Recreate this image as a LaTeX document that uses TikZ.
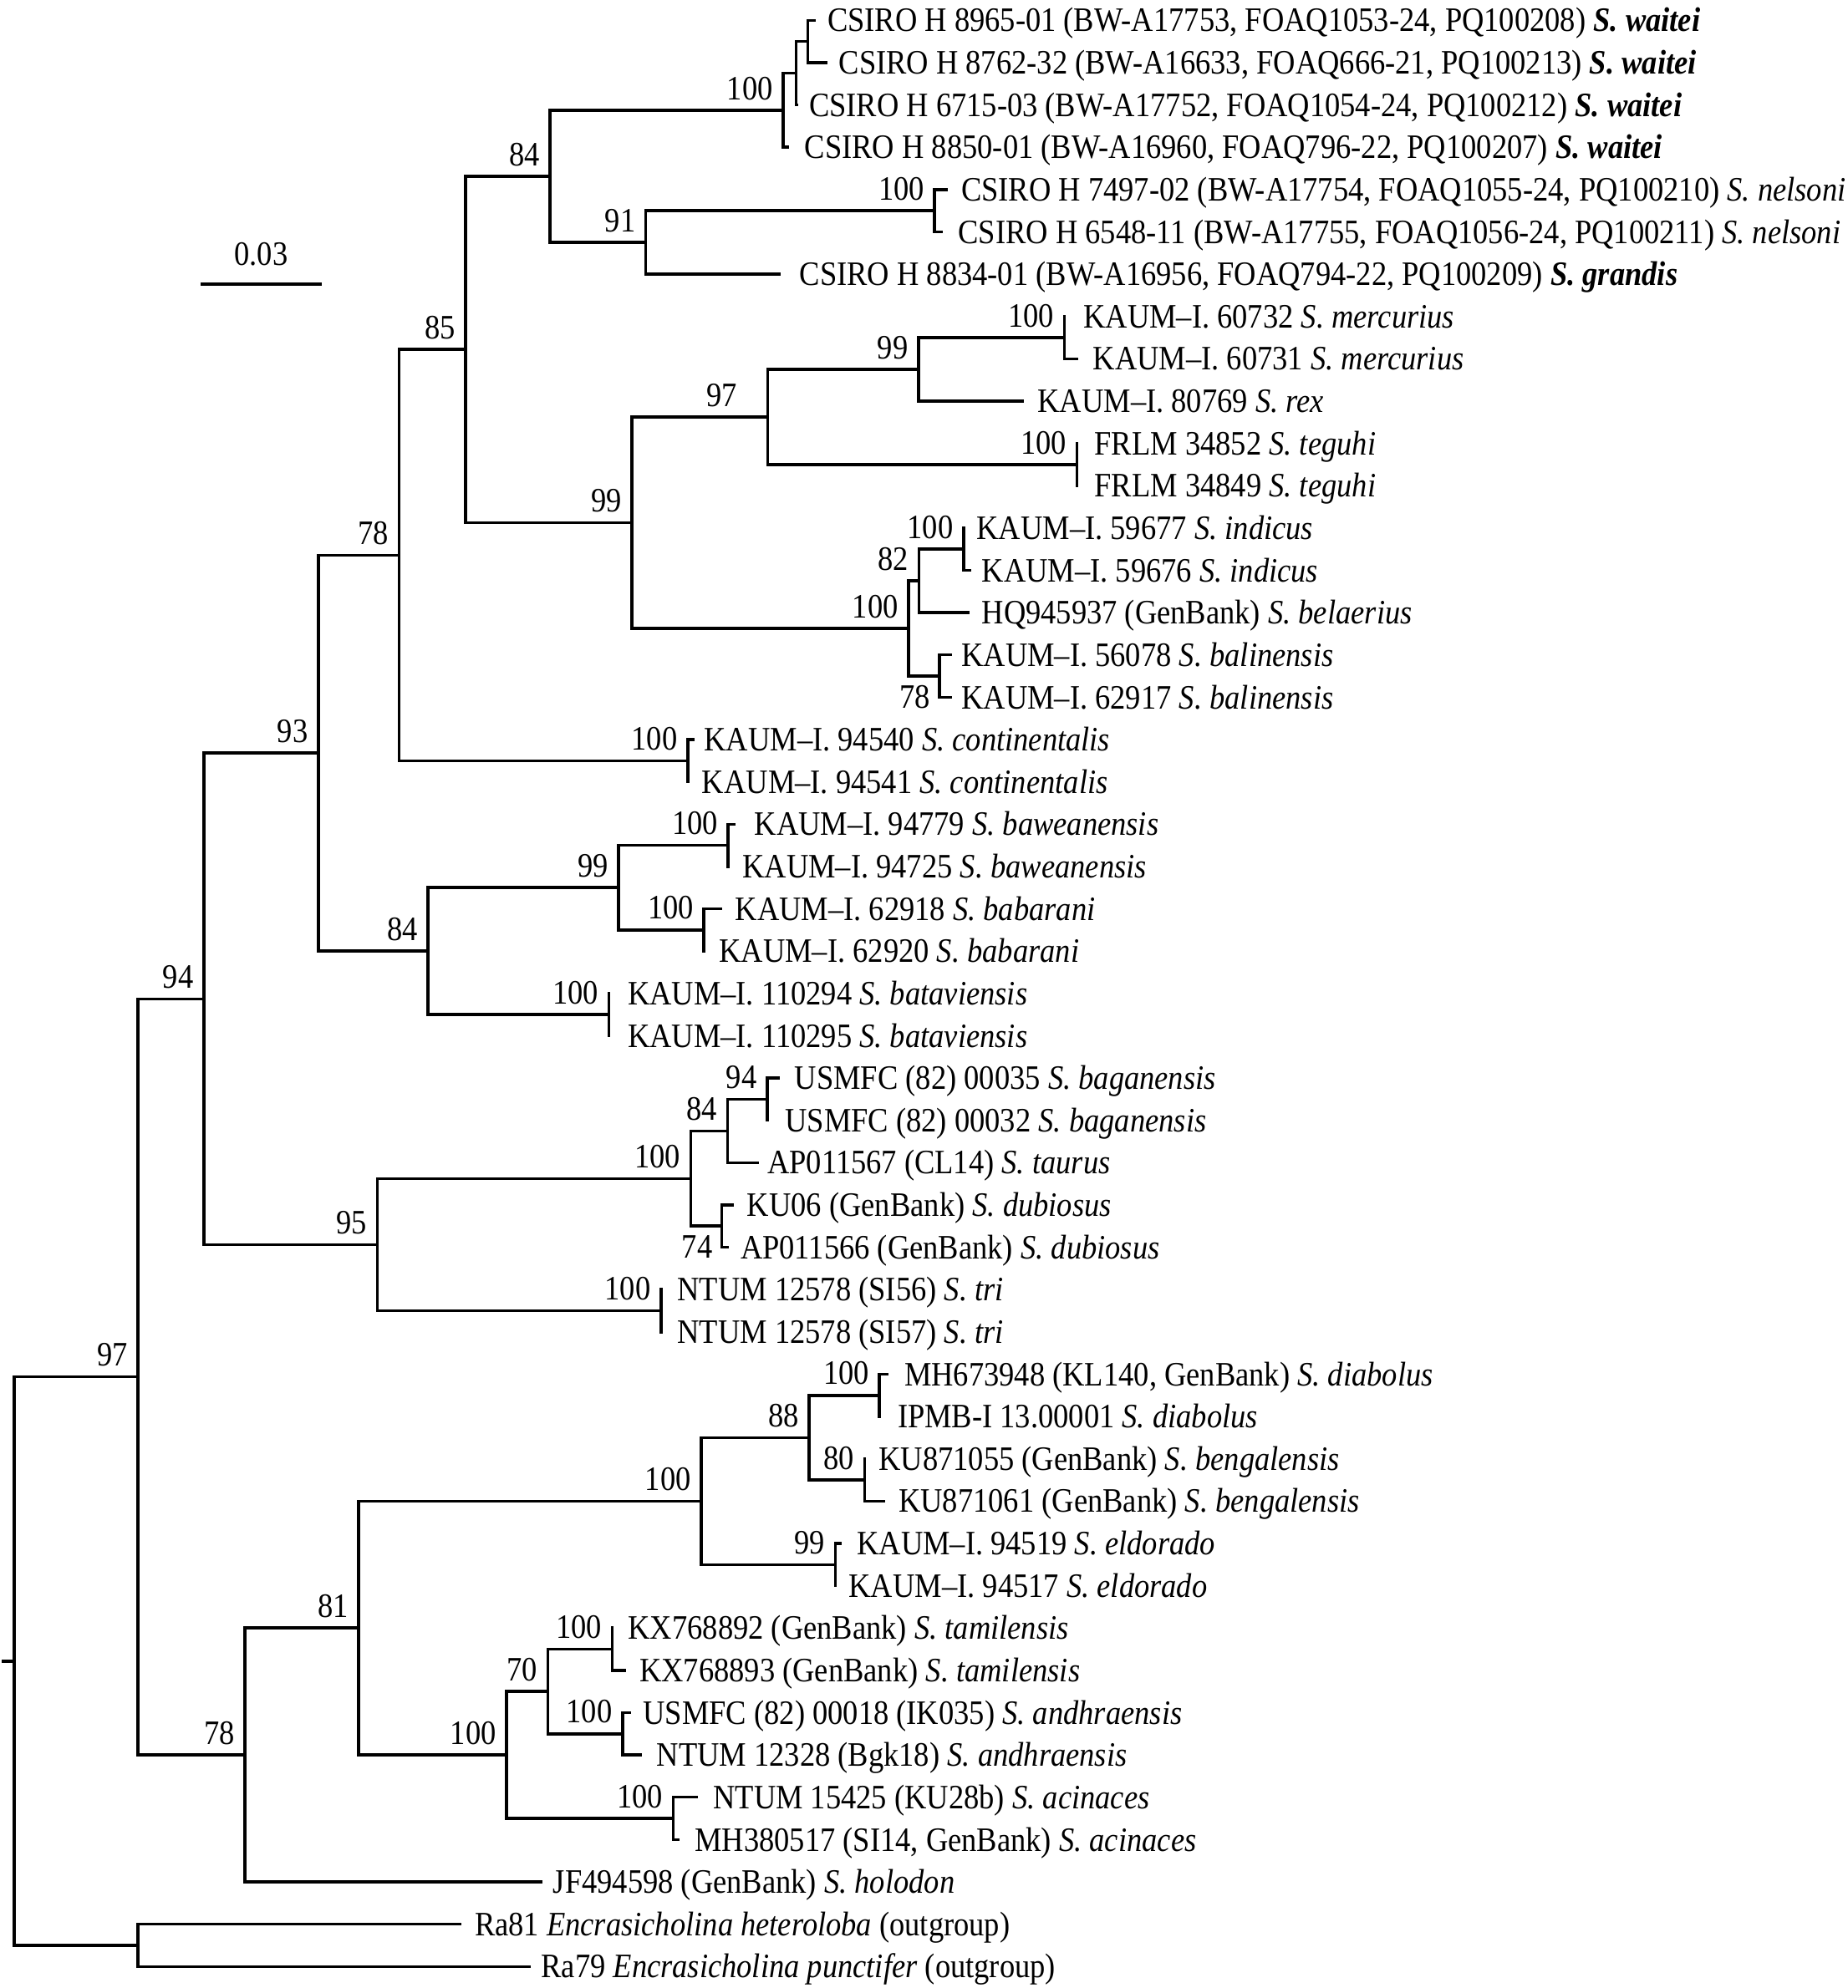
\documentclass[tikz,border=0pt]{standalone}
\usepackage{fontspec}
\setmainfont{Liberation Serif}[FakeStretch=0.891]
\usetikzlibrary{calc}
\newcommand{\fsz}{\fontsize{27}{31}\selectfont}
\newcommand{\mkleaf}[4]{%
  \coordinate (t#1) at (#2, {16+(#1-1)*33.37});
  \node[leaftext] (l#1) at (#3, {16+(#1-1)*33.37}) {#4};}
\newcommand{\spi}[1]{\textit{S. #1}}
\newcommand{\spbi}[1]{\textbf{\textit{S. #1}}}
\begin{document}
\begin{tikzpicture}[x=1pt,y=-1pt,
  br/.style={line width=2.3pt, line cap=rect, line join=miter},
  leaftext/.style={anchor=base west, inner sep=0pt, yshift=-9pt, font=\fsz},
  bs/.style={anchor=south east, inner sep=0pt, xshift=-8pt, yshift=8pt, font=\fsz},
  bsb/.style={anchor=north east, inner sep=0pt, xshift=-7pt, yshift=-7pt, font=\fsz}]
\useasboundingbox (0,0) rectangle (1457,1568);

% internal nodes
\coordinate (root) at (11.2,1310.17);
\coordinate (rootstub) at (2.4,1310.17);
\coordinate (N97) at (108.9,1086.0);
\coordinate (Nout) at (108.9,1534.34);
\coordinate (N94) at (160.7,787.82);
\coordinate (N78b) at (193.2,1384.17);
\coordinate (N93) at (251,593.98);
\coordinate (N95) at (297.6,981.65);
\coordinate (N78a) at (314.7,437.82);
\coordinate (N84b) at (337.5,750.14);
\coordinate (N85) at (367.1,275.66);
\coordinate (Ncontin) at (542.3,599.98);
\coordinate (N84a) at (433.7,139.05);
\coordinate (N99a) at (498.4,412.27);
\coordinate (Nw100) at (617.6,86.91);
\coordinate (Nwsub) at (627.7,57.71);
\coordinate (Nwsubb) at (637.1,32.69);
\coordinate (N91) at (509.3,191.19);
\coordinate (Nnels) at (737,166.17);
\coordinate (N97b) at (605.4,328.84);
\coordinate (N99b) at (724.3,291.30);
\coordinate (Nmerc) at (839.3,266.28);
\coordinate (Ntegu) at (849.3,366.39);
\coordinate (N100c) at (716.5,495.69);
\coordinate (N82) at (724.7,458.15);
\coordinate (Nindi) at (759.8,433.13);
\coordinate (N78c) at (740.7,533.24);
\coordinate (N99c) at (487.8,700.09);
\coordinate (Nbawe) at (574.2,666.72);
\coordinate (Nbaba) at (555.1,733.46);
\coordinate (Nbata) at (480,800.2);
\coordinate (N100d) at (544.7,929.51);
\coordinate (N84c) at (573.8,891.97);
\coordinate (N94b) at (605,866.94);
\coordinate (N74) at (569,967.05);
\coordinate (Ntri) at (521.2,1033.79);
\coordinate (N81) at (282.8,1284.06);
\coordinate (N100e) at (553.1,1183.95);
\coordinate (N88) at (638.1,1133.9);
\coordinate (Ndiab) at (693.5,1100.53);
\coordinate (N80) at (681.7,1167.27);
\coordinate (Neldo) at (658.8,1234.0);
\coordinate (N100f) at (399.5,1384.17);
\coordinate (N70) at (431.9,1334.12);
\coordinate (Ntami) at (482.7,1300.75);
\coordinate (Nandh) at (490.9,1367.49);
\coordinate (Nacin) at (530.9,1434.23);

% leaves: index, tip x, text x, text
\mkleaf{1}{641.8}{652.3}{CSIRO H 8965-01 (BW-A17753, FOAQ1053-24, PQ100208) \spbi{waitei}}
\mkleaf{2}{651.2}{661.3}{CSIRO H 8762-32 (BW-A16633, FOAQ666-21, PQ100213) \spbi{waitei}}
\mkleaf{3}{628.5}{637.8}{CSIRO H 6715-03 (BW-A17752, FOAQ1054-24, PQ100212) \spbi{waitei}}
\mkleaf{4}{621}{634.4}{CSIRO H 8850-01 (BW-A16960, FOAQ796-22, PQ100207) \spbi{waitei}}
\mkleaf{5}{746.4}{757.8}{CSIRO H 7497-02 (BW-A17754, FOAQ1055-24, PQ100210) \spi{nelsoni}}
\mkleaf{6}{742}{755.5}{CSIRO H 6548-11 (BW-A17755, FOAQ1056-24, PQ100211) \spi{nelsoni}}
\mkleaf{7}{614.3}{630.4}{CSIRO H 8834-01 (BW-A16956, FOAQ794-22, PQ100209) \spbi{grandis}}
\mkleaf{8}{839.3}{854.2}{KAUM–I. 60732 \spi{mercurius}}
\mkleaf{9}{849.3}{861.8}{KAUM–I. 60731 \spi{mercurius}}
\mkleaf{10}{806.1}{818.1}{KAUM–I. 80769 \spi{rex}}
\mkleaf{11}{849.3}{862.9}{FRLM 34852 \spi{teguhi}}
\mkleaf{12}{849.3}{862.9}{FRLM 34849 \spi{teguhi}}
\mkleaf{13}{759.8}{770}{KAUM–I. 59677 \spi{indicus}}
\mkleaf{14}{764.6}{774}{KAUM–I. 59676 \spi{indicus}}
\mkleaf{15}{763.5}{774}{HQ945937 (GenBank) \spi{belaerius}}
\mkleaf{16}{749.3}{758}{KAUM–I. 56078 \spi{balinensis}}
\mkleaf{17}{749.3}{758}{KAUM–I. 62917 \spi{balinensis}}
\mkleaf{18}{546.7}{555.1}{KAUM–I. 94540 \spi{continentalis}}
\mkleaf{19}{542.3}{553.4}{KAUM–I. 94541 \spi{continentalis}}
\mkleaf{20}{578.6}{594.8}{KAUM–I. 94779 \spi{baweanensis}}
\mkleaf{21}{574.2}{585.3}{KAUM–I. 94725 \spi{baweanensis}}
\mkleaf{22}{568.5}{579.6}{KAUM–I. 62918 \spi{babarani}}
\mkleaf{23}{555.1}{566.9}{KAUM–I. 62920 \spi{babarani}}
\mkleaf{24}{480}{494.8}{KAUM–I. 110294 \spi{bataviensis}}
\mkleaf{25}{480}{494.8}{KAUM–I. 110295 \spi{bataviensis}}
\mkleaf{26}{613.8}{626.5}{USMFC (82) 00035 \spi{baganensis}}
\mkleaf{27}{605}{619}{USMFC (82) 00032 \spi{baganensis}}
\mkleaf{28}{597}{605}{AP011567 (CL14) \spi{taurus}}
\mkleaf{29}{577.8}{589}{KU06 (GenBank) \spi{dubiosus}}
\mkleaf{30}{573.8}{583.8}{AP011566 (GenBank) \spi{dubiosus}}
\mkleaf{31}{521.2}{534}{NTUM 12578 (SI56) \spi{tri}}
\mkleaf{32}{521.2}{534}{NTUM 12578 (SI57) \spi{tri}}
\mkleaf{33}{699.5}{713}{MH673948 (KL140, GenBank) \spi{diabolus}}
\mkleaf{34}{693.5}{707.7}{IPMB-I 13.00001 \spi{diabolus}}
\mkleaf{35}{681.7}{692.7}{KU871055 (GenBank) \spi{bengalensis}}
\mkleaf{36}{697}{708.5}{KU871061 (GenBank) \spi{bengalensis}}
\mkleaf{37}{662.4}{675.6}{KAUM–I. 94519 \spi{eldorado}}
\mkleaf{38}{658.8}{669.2}{KAUM–I. 94517 \spi{eldorado}}
\mkleaf{39}{482.7}{495.2}{KX768892 (GenBank) \spi{tamilensis}}
\mkleaf{40}{492.7}{504.1}{KX768893 (GenBank) \spi{tamilensis}}
\mkleaf{41}{496.2}{507}{USMFC (82) 00018 (IK035) \spi{andhraensis}}
\mkleaf{42}{505.2}{517.7}{NTUM 12328 (Bgk18) \spi{andhraensis}}
\mkleaf{43}{549.5}{562.3}{NTUM 15425 (KU28b) \spi{acinaces}}
\mkleaf{44}{534.5}{547.7}{MH380517 (SI14, GenBank) \spi{acinaces}}
\mkleaf{45}{426.6}{436}{JF494598 (GenBank) \spi{holodon}}
\mkleaf{46}{362.8}{374.2}{Ra81 \textit{Encrasicholina heteroloba} (outgroup)}
\mkleaf{47}{417.2}{426.6}{Ra79 \textit{Encrasicholina punctifer} (outgroup)}

% branches
\draw[br] (rootstub) -- (root);
\foreach \p/\c in {root/N97, root/Nout, N97/N94, N97/N78b, N94/N93, N94/N95,
  N93/N78a, N93/N84b, N78a/N85, N78a/Ncontin, N85/N84a, N85/N99a,
  N84a/Nw100, N84a/N91, Nw100/Nwsub, Nw100/t4, Nwsub/Nwsubb, Nwsub/t3,
  Nwsubb/t1, Nwsubb/t2, N91/Nnels, N91/t7, Nnels/t5, Nnels/t6,
  N99a/N97b, N99a/N100c, N97b/N99b, N97b/Ntegu, N99b/Nmerc, N99b/t10,
  Nmerc/t8, Nmerc/t9, Ntegu/t11, Ntegu/t12, N100c/N82, N100c/N78c,
  N82/Nindi, N82/t15, Nindi/t13, Nindi/t14, N78c/t16, N78c/t17,
  Ncontin/t18, Ncontin/t19, N84b/N99c, N84b/Nbata, N99c/Nbawe, N99c/Nbaba,
  Nbawe/t20, Nbawe/t21, Nbaba/t22, Nbaba/t23, Nbata/t24, Nbata/t25,
  N95/N100d, N95/Ntri, N100d/N84c, N100d/N74, N84c/N94b, N84c/t28,
  N94b/t26, N94b/t27, N74/t29, N74/t30, Ntri/t31, Ntri/t32,
  N78b/N81, N78b/t45, N81/N100e, N81/N100f, N100e/N88, N100e/Neldo,
  N88/Ndiab, N88/N80, Ndiab/t33, Ndiab/t34, N80/t35, N80/t36,
  Neldo/t37, Neldo/t38, N100f/N70, N100f/Nacin, N70/Ntami, N70/Nandh,
  Ntami/t39, Ntami/t40, Nandh/t41, Nandh/t42, Nacin/t43, Nacin/t44,
  Nout/t46, Nout/t47}
  \draw[br] (\p) |- (\c);

% bootstrap values
\foreach \n/\v in {N97/97, N94/94, N93/93, N78a/78, N85/85, N84a/84, Nw100/100,
  N91/91, Nnels/100, N99a/99, N99b/99, Nmerc/100, Ntegu/100, N100c/100,
  N82/82, Nindi/100, Ncontin/100, N84b/84, N99c/99, Nbawe/100, Nbaba/100,
  Nbata/100, N95/95, N100d/100, N84c/84, N94b/94, Ntri/100, N78b/78,
  N81/81, N100e/100, N88/88, Ndiab/100, N80/80, Neldo/99, N100f/100,
  N70/70, Ntami/100, Nandh/100, Nacin/100}
  \node[bs] (b\n) at (\n) {\v};
\node[bs, xshift=-16pt] (bN97b) at (N97b) {97};
\node[bsb] (bN78c) at (N78c) {78};
\node[bsb] (bN74) at (N74) {74};

% scale bar
\coordinate (sbl) at (159.3,224);
\coordinate (sbr) at (252.6,224);
\draw[br] (sbl) -- (sbr);
\node[anchor=south, inner sep=0pt, font=\fsz] (sblab) at ($(sbl)!0.5!(sbr)+(0,-14)$) {0.03};
\end{tikzpicture}
\end{document}
